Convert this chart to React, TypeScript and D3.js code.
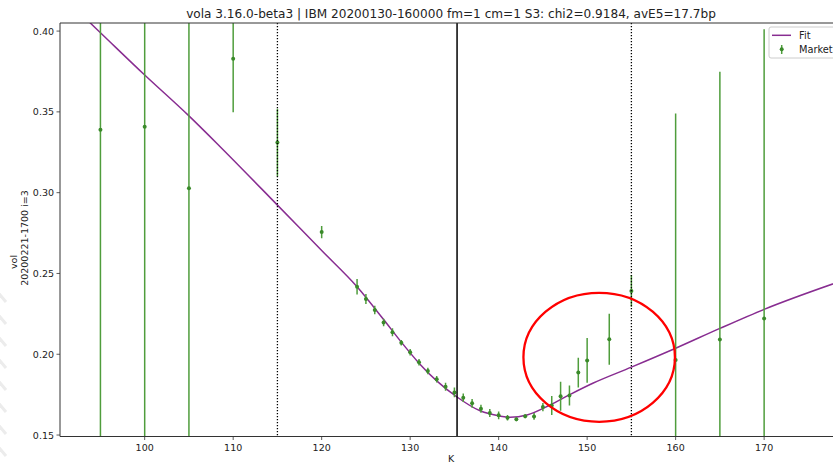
import React from "react";
import * as d3 from "d3";

// ---- data ----
const marketK = [95, 100, 105, 110, 115, 120, 124, 125, 126, 127, 128, 129, 130, 131, 132, 133, 134, 135, 136, 137, 138, 139, 140, 141, 142, 143, 144, 145, 146, 147, 148, 149, 150, 152.5, 155, 160, 165, 170];
const marketVol = [0.339, 0.3408, 0.3027, 0.3829, 0.331, 0.2756, 0.2418, 0.2342, 0.2274, 0.2197, 0.2136, 0.2071, 0.2012, 0.195, 0.1896, 0.1845, 0.1799, 0.1764, 0.1731, 0.1696, 0.1663, 0.1636, 0.1622, 0.1607, 0.1597, 0.1616, 0.1615, 0.1673, 0.1683, 0.174, 0.1745, 0.1887, 0.1962, 0.2093, 0.2392, 0.1964, 0.2092, 0.2222];
const marketErr = [0.21, 0.22, 0.19, 0.0332, 0.021, 0.0038, 0.0048, 0.0031, 0.0026, 0.0023, 0.0025, 0.0017, 0.002, 0.002, 0.002, 0.002, 0.0025, 0.003, 0.0026, 0.0027, 0.0025, 0.0025, 0.0024, 0.0017, 0.0011, 0.0012, 0.0021, 0.0026, 0.0059, 0.009, 0.0062, 0.0092, 0.0138, 0.0158, 0.0098, 0.1526, 0.1656, 0.179];

const fitK = [90, 95, 100, 105, 108.5, 115, 120, 124, 127, 129, 131, 133, 135.25, 137.9, 140.1, 141.3, 143.2, 145.8, 148.1, 150.7, 155, 160, 165, 170, 178.8];
const fitVol = [0.4252, 0.399, 0.3728, 0.3475, 0.3286, 0.2923, 0.2642, 0.2418, 0.2215, 0.2075, 0.1945, 0.1835, 0.1737, 0.165, 0.1618, 0.161, 0.1624, 0.1686, 0.1752, 0.1822, 0.192, 0.2037, 0.216, 0.2278, 0.2455];

const xTicks = [100, 110, 120, 130, 140, 150, 160, 170];
const yTicks = [0.15, 0.2, 0.25, 0.3, 0.35, 0.4];
const xDomain = [90.43, 178.8];
const yDomain = [0.1491, 0.405];

const spotK = 135.3;
const boundaryK = [115, 155];

// annotation ellipse (data units)
const circleK = 151.36;
const circleVol = 0.1981;
const circleRK = 8.56;
const circleRVol = 0.0399;

const title = "vola 3.16.0-beta3 | IBM 20200130-160000 fm=1 cm=1 S3: chi2=0.9184, avE5=17.7bp";
const yLabel1 = "vol";
const yLabel2 = "20200221-1700 i=3";
const xLabel = "K";

// ---- layout ----
const W = 833;
const H = 464;
const L = 60;
const R = 842;
const T = 23;
const B = 436.5;

const FONT = "DejaVu Sans, sans-serif";
const FIT_COLOR = "#882d91";
const BAR_COLOR = "#4f9d3c";
const DOT_COLOR = "#3a8a2a";

export default function App() {
  const x = d3.scaleLinear().domain(xDomain).range([L, R]);
  const y = d3.scaleLinear().domain(yDomain).range([B, T]);

  const fitPts = fitK.map((k, i) => [k, fitVol[i]] as [number, number]);
  const line = d3
    .line<[number, number]>()
    .x((d) => x(d[0]))
    .y((d) => y(d[1]))
    .curve(d3.curveMonotoneX);

  const stripes = [296, 318, 340, 362, 384, 406, 428, 450];

  return (
    <svg
      width={W}
      height={H}
      style={{ position: "absolute", left: 0, top: 0, background: "#fff" }}
      fontFamily={FONT}
    >
      <rect x={0} y={0} width={W} height={H} fill="#fff" />
      {/* faint background stripes */}
      <g stroke="#ececec" strokeWidth={3}>
        {stripes.map((s) => (
          <line key={s} x1={-4} y1={s - 6} x2={6} y2={s + 6} />
        ))}
      </g>
      <defs>
        <clipPath id="plot">
          <rect x={L} y={T} width={R - L} height={B - T} />
        </clipPath>
      </defs>

      <g clipPath="url(#plot)">
        <path d={line(fitPts) || ""} fill="none" stroke={FIT_COLOR} strokeWidth={1.5} />
        {marketK.map((k, i) => (
          <g key={k}>
            <line
              x1={x(k)}
              x2={x(k)}
              y1={y(marketVol[i] - marketErr[i])}
              y2={y(marketVol[i] + marketErr[i])}
              stroke={BAR_COLOR}
              strokeWidth={1.5}
            />
            <circle cx={x(k)} cy={y(marketVol[i])} r={2} fill={DOT_COLOR} />
          </g>
        ))}
        <line x1={x(spotK)} x2={x(spotK)} y1={T} y2={B} stroke="#000" strokeWidth={1.5} />
        {boundaryK.map((k) => (
          <line
            key={k}
            x1={x(k)}
            x2={x(k)}
            y1={T}
            y2={B}
            stroke="#000"
            strokeWidth={1.3}
            strokeDasharray="1.3,1.7"
          />
        ))}
      </g>

      {/* axes frame */}
      <g stroke="#333" strokeWidth={1} fill="none">
        <line x1={L} x2={L} y1={T} y2={B} />
        <line x1={L} x2={R} y1={B} y2={B} />
        <line x1={L} x2={R} y1={T} y2={T} />
      </g>

      {/* x ticks */}
      <g fontSize={9.5} fill="#222" textAnchor="middle">
        {xTicks.map((t) => (
          <g key={t}>
            <line x1={x(t)} x2={x(t)} y1={B} y2={B + 3.5} stroke="#333" strokeWidth={0.8} />
            <text x={x(t)} y={B + 14}>
              {t}
            </text>
          </g>
        ))}
      </g>
      {/* y ticks */}
      <g fontSize={9.5} fill="#222" textAnchor="end">
        {yTicks.map((t) => (
          <g key={t}>
            <line x1={L - 3.5} x2={L} y1={y(t)} y2={y(t)} stroke="#333" strokeWidth={0.8} />
            <text x={L - 6} y={y(t) + 3.5}>
              {t.toFixed(2)}
            </text>
          </g>
        ))}
      </g>

      {/* labels */}
      <text x={(L + R) / 2} y={462} fontSize={9.5} textAnchor="middle" fill="#222">
        {xLabel}
      </text>
      <text
        transform={`translate(16.5, 262) rotate(-90)`}
        fontSize={9.5}
        textAnchor="middle"
        fill="#222"
      >
        {yLabel1}
      </text>
      <text
        transform={`translate(27.5, 238) rotate(-90)`}
        fontSize={9.5}
        textAnchor="middle"
        fill="#222"
      >
        {yLabel2}
      </text>
      <text x={451} y={18} fontSize={12.1} textAnchor="middle" fill="#222">
        {title}
      </text>

      {/* annotation */}
      <ellipse
        cx={x(circleK)}
        cy={y(circleVol)}
        rx={x(circleK + circleRK) - x(circleK)}
        ry={y(circleVol) - y(circleVol + circleRVol)}
        fill="none"
        stroke="#f00"
        strokeWidth={2.3}
      />

      {/* legend */}
      <g>
        <rect x={769} y={27} width={80} height={31} rx={2} fill="#fff" fillOpacity={0.85} stroke="#ccc" strokeWidth={1} />
        <line x1={772} x2={791} y1={35.3} y2={35.3} stroke={FIT_COLOR} strokeWidth={1.5} />
        <text x={799} y={38.8} fontSize={9.8} fill="#222">
          Fit
        </text>
        <line x1={781.7} x2={781.7} y1={45} y2={54} stroke={BAR_COLOR} strokeWidth={1.5} />
        <circle cx={781.7} cy={49.3} r={2} fill={DOT_COLOR} />
        <text x={799} y={52.8} fontSize={9.8} fill="#222">
          Market
        </text>
      </g>
    </svg>
  );
}
